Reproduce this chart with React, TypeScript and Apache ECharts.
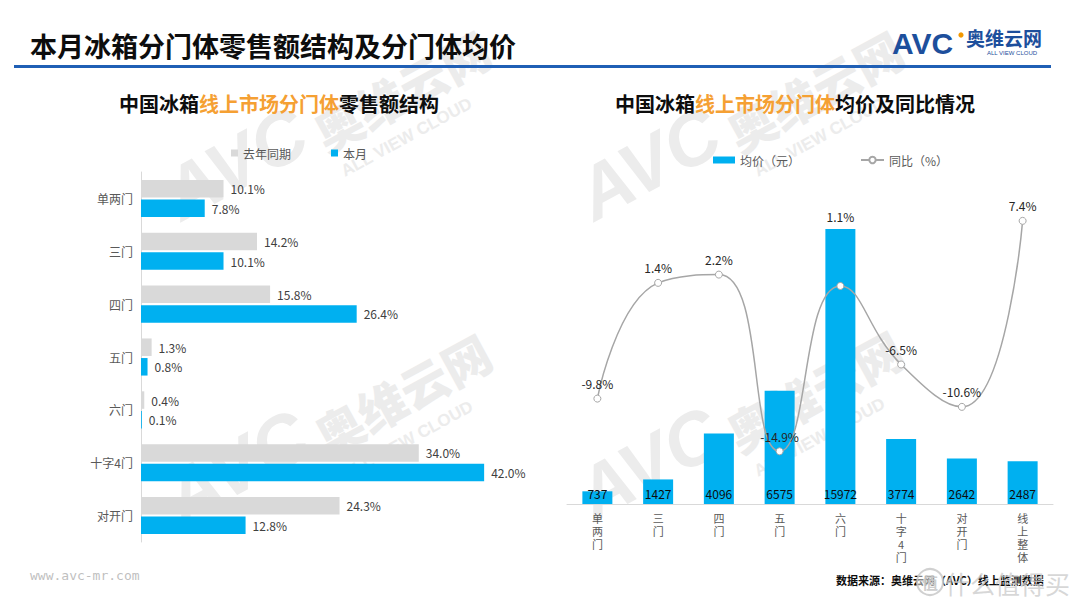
import React, { useEffect, useRef } from "react";
import * as echarts from "echarts";

const leftCategories = ["单两门", "三门", "四门", "五门", "六门", "十字4门", "对开门"];
const lastYearShare = [10.1, 14.2, 15.8, 1.3, 0.4, 34.0, 24.3];
const thisMonthShare = [7.8, 10.1, 26.4, 0.8, 0.1, 42.0, 12.8];

const rightCategories = ["单两门", "三门", "四门", "五门", "六门", "十字4门", "对开门", "线上整体"];
const avgPrice = [737, 1427, 4096, 6575, 15972, 3774, 2642, 2487];
const yoyChange = [-9.8, 1.4, 2.2, -14.9, 1.1, -6.5, -10.6, 7.4];

const FF = '"Microsoft YaHei", "Noto Sans CJK SC", sans-serif';
const BLUE = "#00b0f0";
const GREY = "#d9d9d9";
const ORANGE = "#f5a033";
const WM = "#ececec";

function watermark(x: number, y: number) {
  return {
    type: "group",
    x,
    y,
    rotation: 0.5,
    silent: true,
    z: -10,
    children: [
      {
        type: "text",
        x: 0,
        y: 0,
        z: -10,
        style: { text: "AVC", fontSize: 74, fontWeight: 900, fontStyle: "italic", fontFamily: "Arial, Liberation Sans", fill: WM, verticalAlign: "bottom" },
      },
      {
        type: "text",
        x: 160,
        y: 2,
        z: -10,
        style: { text: "奥维云网", fontSize: 48, fontWeight: 900, fontFamily: FF, fill: WM, verticalAlign: "bottom" },
      },
      {
        type: "text",
        x: 165,
        y: 22,
        z: -10,
        style: { text: "ALL VIEW CLOUD", fontSize: 17, fontWeight: "bold", fontFamily: "Arial, Liberation Sans", fill: WM, verticalAlign: "middle" },
      },
    ],
  };
}

function chartTitle(cx: number, a: string, b: string, c: string) {
  return {
    type: "text",
    x: cx,
    y: 103,
    style: {
      text: `{a|${a}}{b|${b}}{a|${c}}`,
      align: "center",
      verticalAlign: "middle",
      rich: {
        a: { fontSize: 20, fontWeight: "bold", fontFamily: FF, fill: "#0d0d0d" },
        b: { fontSize: 20, fontWeight: "bold", fontFamily: FF, fill: ORANGE },
      },
    },
  };
}

export default function App() {
  const ref = useRef<HTMLDivElement>(null);

  useEffect(() => {
    if (!ref.current) return;
    const chart = echarts.init(ref.current, undefined, { renderer: "svg" });

    const pct = (p: any) => Number(p.value).toFixed(1) + "%";

    const option: any = {
      animation: false,
      backgroundColor: "#ffffff",
      textStyle: { fontFamily: FF },
      graphic: [
        watermark(187, 232),
        watermark(600, 232),
        watermark(188, 535),
        watermark(600, 532),
        {
          type: "text",
          x: 30,
          y: 45,
          style: { text: "本月冰箱分门体零售额结构及分门体均价", fontSize: 27, fontWeight: "bold", fontFamily: FF, fill: "#0d0d0d", verticalAlign: "middle" },
        },
        { type: "rect", shape: { x: 14, y: 65, width: 1037, height: 3 }, style: { fill: "#1f5fb5" } },
        {
          type: "text",
          x: 892,
          y: 43,
          style: { text: "AVC", fontSize: 30, fontWeight: 900, fontFamily: "Arial, Liberation Sans", fill: "#1d4f9c", verticalAlign: "middle" },
        },
        { type: "circle", shape: { cx: 961, cy: 35, r: 2.6 }, style: { fill: "#f39800" } },
        {
          type: "text",
          x: 966,
          y: 37,
          style: { text: "奥维云网", fontSize: 19, fontWeight: "bold", fontFamily: FF, fill: "#1d4f9c", verticalAlign: "middle", lineHeight: 19 },
        },
        {
          type: "text",
          x: 1012,
          y: 53,
          style: { text: "ALL VIEW CLOUD", fontSize: 6, fontFamily: "Arial, Liberation Sans", fill: "#1d4f9c", align: "center", verticalAlign: "middle", lineHeight: 6 },
        },
        chartTitle(279, "中国冰箱", "线上市场分门体", "零售额结构"),
        chartTitle(795, "中国冰箱", "线上市场分门体", "均价及同比情况"),
        {
          type: "text",
          x: 30,
          y: 575,
          style: { text: "www.avc-mr.com", fontSize: 13, fontFamily: '"DejaVu Sans Mono", monospace', fill: "#bfbfbf", verticalAlign: "middle" },
        },
        {
          type: "text",
          x: 836,
          y: 580,
          style: { text: "数据来源：奥维云网（AVC）线上监测数据", fontSize: 11, fontWeight: "bold", fontFamily: FF, fill: "#0d0d0d", verticalAlign: "middle" },
        },
        { type: "circle", z: 50, shape: { cx: 930, cy: 582, r: 13 }, style: { fill: "rgba(255,255,255,0.5)", stroke: "rgba(200,200,200,0.85)", lineWidth: 2 } },
        {
          type: "text",
          z: 50,
          x: 930,
          y: 582,
          style: { text: "值", fontSize: 16, fontWeight: "bold", fontFamily: FF, fill: "rgba(200,200,200,0.9)", align: "center", verticalAlign: "middle" },
        },
        {
          type: "text",
          z: 50,
          x: 945,
          y: 583,
          style: { text: "什么值得买", fontSize: 25, fontFamily: FF, fill: "rgba(205,205,205,0.8)", verticalAlign: "middle", lineHeight: 25 },
        },
      ],
      legend: [
        {
          data: ["去年同期", "本月"],
          left: 226,
          top: 142,
          icon: "rect",
          itemWidth: 7,
          itemHeight: 7,
          itemGap: 40,
          textStyle: { fontSize: 12, color: "#595959", fontFamily: FF },
        },
        {
          data: ["均价（元）"],
          left: 708,
          top: 149,
          icon: "rect",
          itemWidth: 22,
          itemHeight: 7,
          textStyle: { fontSize: 12, color: "#595959", fontFamily: FF },
        },
        {
          data: ["同比（%）"],
          left: 855,
          top: 149,
          itemWidth: 23,
          itemHeight: 8,
          textStyle: { fontSize: 12, color: "#595959", fontFamily: FF },
        },
      ],
      grid: [
        { left: 141, top: 172, width: 408.5, height: 370 },
        { left: 567, top: 194, width: 486, height: 310 },
      ],
      xAxis: [
        { gridIndex: 0, type: "value", min: 0, max: 50, show: false },
        {
          gridIndex: 1,
          type: "category",
          data: rightCategories,
          axisLine: { lineStyle: { color: "#d9d9d9", width: 1 } },
          axisTick: { show: false },
          axisLabel: {
            interval: 0,
            margin: 7,
            fontSize: 11,
            lineHeight: 13,
            color: "#595959",
            fontFamily: FF,
            formatter: (v: string) => v.split("").join("\n"),
          },
        },
      ],
      yAxis: [
        {
          gridIndex: 0,
          type: "category",
          inverse: true,
          data: leftCategories,
          axisLine: { lineStyle: { color: "#d9d9d9", width: 1 } },
          axisTick: { show: false },
          axisLabel: { fontSize: 12, color: "#595959", margin: 8, fontFamily: FF },
        },
        { gridIndex: 1, type: "value", min: 0, max: 18000, show: false },
        { gridIndex: 1, type: "value", min: -20, max: 10, show: false },
      ],
      series: [
        {
          name: "去年同期",
          type: "bar",
          xAxisIndex: 0,
          yAxisIndex: 0,
          data: lastYearShare,
          barWidth: 17.5,
          barGap: "12%",
          itemStyle: { color: GREY },
          label: { show: true, position: "right", distance: 7, fontSize: 12, color: "#404040", formatter: pct },
        },
        {
          name: "本月",
          type: "bar",
          xAxisIndex: 0,
          yAxisIndex: 0,
          data: thisMonthShare,
          barWidth: 17.5,
          barGap: "12%",
          itemStyle: { color: BLUE },
          label: { show: true, position: "right", distance: 7, fontSize: 12, color: "#404040", formatter: pct },
        },
        {
          name: "均价（元）",
          type: "bar",
          xAxisIndex: 1,
          yAxisIndex: 1,
          data: avgPrice,
          barWidth: 30,
          itemStyle: { color: BLUE },
          label: { show: true, position: "insideBottom", distance: 5, fontSize: 12, color: "#0d0d0d" },
        },
        {
          name: "同比（%）",
          type: "line",
          xAxisIndex: 1,
          yAxisIndex: 2,
          smooth: 0.5,
          z: 5,
          data: yoyChange.map((v, i) => (i === 4 ? { value: v, label: { offset: [0, -54] } } : v)),
          symbol: "circle",
          symbolSize: 7,
          lineStyle: { color: "#a6a6a6", width: 1.5 },
          itemStyle: { color: "#ffffff", borderColor: "#a6a6a6", borderWidth: 1 },
          label: { show: true, position: "top", distance: 5, fontSize: 12, color: "#262626", formatter: pct },
        },
      ],
    };

    chart.setOption(option);
    return () => chart.dispose();
  }, []);

  return (
    <div
      ref={ref}
      style={{ position: "fixed", left: 0, top: 0, width: 1080, height: 608, background: "#fff" }}
    />
  );
}
